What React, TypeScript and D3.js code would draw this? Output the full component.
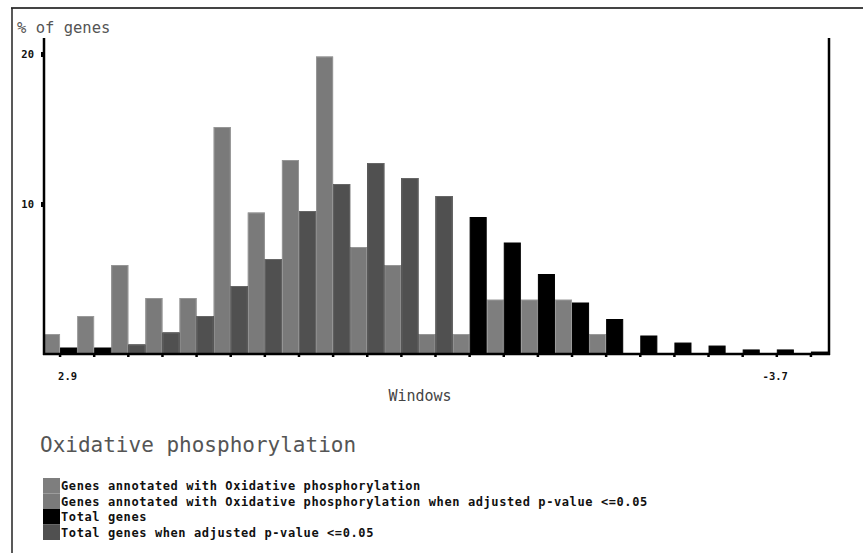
import React, { useEffect, useRef } from "react";
import * as d3 from "d3";

// windows go from 2.9 down to -3.7, only the two ends are labelled
const windowLabels = ["2.9", "-3.7"];
const annotated = [1.3, 2.5, 5.9, 3.7, 3.7, 15.1, 9.4, 12.9, 19.8, 7.1, 5.9, 1.3, 1.3, 3.6, 3.6, 3.6, 1.3, 0, 0, 0, 0, 0, 0];
const annotatedAdj = [0, 0, 5.9, 3.7, 3.7, 15.1, 9.4, 12.9, 19.8, 7.1, 5.9, 1.3, 0, 0, 0, 0, 0, 0, 0, 0, 0, 0, 0];
const totalGenes = [0.4, 0.4, 0.6, 1.4, 2.5, 4.5, 6.3, 9.5, 11.3, 12.7, 11.7, 10.5, 9.1, 7.4, 5.3, 3.4, 2.3, 1.2, 0.73, 0.53, 0.27, 0.27, 0.13];
const totalAdj = [0, 0, 0.6, 1.4, 2.5, 4.5, 6.3, 9.5, 11.3, 12.7, 11.7, 10.5, 0, 0, 0, 0, 0, 0, 0, 0, 0, 0, 0];
const yTicks = [10, 20];
const legendLabels = [
  "Genes annotated with Oxidative phosphorylation",
  "Genes annotated with Oxidative phosphorylation when adjusted p-value <=0.05",
  "Total genes",
  "Total genes when adjusted p-value <=0.05",
];
const seriesColors = ["#7e7e7e", "#7a7a7a", "#000000", "#505050"];
const seriesStroke = ["#9a9a9a", "#969696", "#000000", "#666666"];

const mono = "'DejaVu Sans Mono', 'Liberation Mono', monospace";

const App = () => {
  const svgRef = useRef<SVGSVGElement>(null);

  useEffect(() => {
    const svg = d3.select(svgRef.current);
    svg.selectAll("*").remove();

    const bins = d3.range(totalGenes.length);
    const xScale = d3.scaleBand<number>().domain(bins).range([43, 828]).padding(0);
    const inner = d3.scaleBand<string>().domain(["light", "dark"]).range([0, xScale.bandwidth()]);
    const yScale = d3.scaleLinear().domain([0, 20]).range([354, 54]);

    // outer frame
    svg.append("line").attr("x1", 11).attr("x2", 863).attr("y1", 8).attr("y2", 8)
      .attr("stroke", "#444").attr("stroke-width", 2);
    svg.append("line").attr("x1", 12).attr("x2", 12).attr("y1", 8).attr("y2", 553)
      .attr("stroke", "#222").attr("stroke-width", 1.5);

    const series = [
      { data: annotated, group: "light" },
      { data: annotatedAdj, group: "light" },
      { data: totalGenes, group: "dark" },
      { data: totalAdj, group: "dark" },
    ];

    series.forEach((s, si) => {
      svg.append("g")
        .selectAll("rect")
        .data(s.data.map((v, i) => ({ v, i })).filter((d) => d.v > 0))
        .join("rect")
        .attr("x", (d) => (xScale(d.i) as number) + (inner(s.group) as number) + 0.5)
        .attr("y", (d) => yScale(d.v))
        .attr("width", inner.bandwidth() - 1)
        .attr("height", (d) => yScale(0) - yScale(d.v))
        .attr("fill", seriesColors[si])
        .attr("stroke", seriesStroke[si])
        .attr("stroke-width", 1);
    });

    // bottom ticks
    const xAxis = d3.axisBottom(xScale).tickSize(3).tickFormat(() => "");
    const gx = svg.append("g").attr("transform", `translate(0,${yScale(0)})`).call(xAxis);
    gx.select(".domain").remove();
    gx.selectAll("line").attr("stroke", "#000").attr("stroke-width", 2.5);

    // left ticks
    const yAxis = d3.axisLeft(yScale).tickValues(yTicks).tickSize(3).tickPadding(7).tickFormat(d3.format("d"));
    const gy = svg.append("g").attr("transform", "translate(44,0)").call(yAxis);
    gy.select(".domain").remove();
    gy.selectAll("line").attr("stroke", "#000").attr("stroke-width", 5);
    gy.selectAll("text").attr("font-family", mono).attr("font-weight", "bold")
      .attr("font-size", 10.5).attr("fill", "#111");

    // axis lines
    svg.append("line").attr("x1", 44).attr("x2", 44).attr("y1", 38).attr("y2", yScale(0) + 1)
      .attr("stroke", "#000").attr("stroke-width", 2.5);
    svg.append("line").attr("x1", 829).attr("x2", 829).attr("y1", 38).attr("y2", yScale(0) + 1)
      .attr("stroke", "#000").attr("stroke-width", 2.5);
    svg.append("line").attr("x1", 43).attr("x2", 830).attr("y1", yScale(0)).attr("y2", yScale(0))
      .attr("stroke", "#000").attr("stroke-width", 2.5);

    // window labels
    svg.append("text").attr("x", (xScale(0) as number) + xScale.bandwidth() / 2 - 2).attr("y", 380)
      .attr("font-family", mono).attr("font-weight", "bold").attr("font-size", 10.5).attr("fill", "#111")
      .text(windowLabels[0]);
    svg.append("text").attr("x", (xScale(bins.length - 1) as number) - 6).attr("y", 380)
      .attr("text-anchor", "end")
      .attr("font-family", mono).attr("font-weight", "bold").attr("font-size", 10.5).attr("fill", "#111")
      .text(windowLabels[1]);

    svg.append("text").attr("x", 17).attr("y", 33)
      .attr("font-family", mono).attr("font-size", 15.5).attr("fill", "#555")
      .text("% of genes");
    svg.append("text").attr("x", 420).attr("y", 401).attr("text-anchor", "middle")
      .attr("font-family", mono).attr("font-size", 15).attr("fill", "#444")
      .text("Windows");
    svg.append("text").attr("x", 40).attr("y", 452)
      .attr("font-family", mono).attr("font-size", 21).attr("fill", "#555")
      .text("Oxidative phosphorylation");

    // legend
    const legend = svg.append("g");
    legendLabels.forEach((lab, i) => {
      const y = 478 + i * 15.5;
      legend.append("rect").attr("x", 43).attr("y", y).attr("width", 17).attr("height", 15.5)
        .attr("fill", seriesColors[i]);
      legend.append("text").attr("x", 61).attr("y", y + 12)
        .attr("font-family", mono).attr("font-weight", "bold").attr("font-size", 12)
        .attr("letter-spacing", 0.6).attr("fill", "#111")
        .text(lab);
    });
  }, []);

  return (
    <svg
      ref={svgRef}
      width={863}
      height={553}
      style={{ position: "absolute", left: 0, top: 0, background: "#fff" }}
    ></svg>
  );
};

export default App;
